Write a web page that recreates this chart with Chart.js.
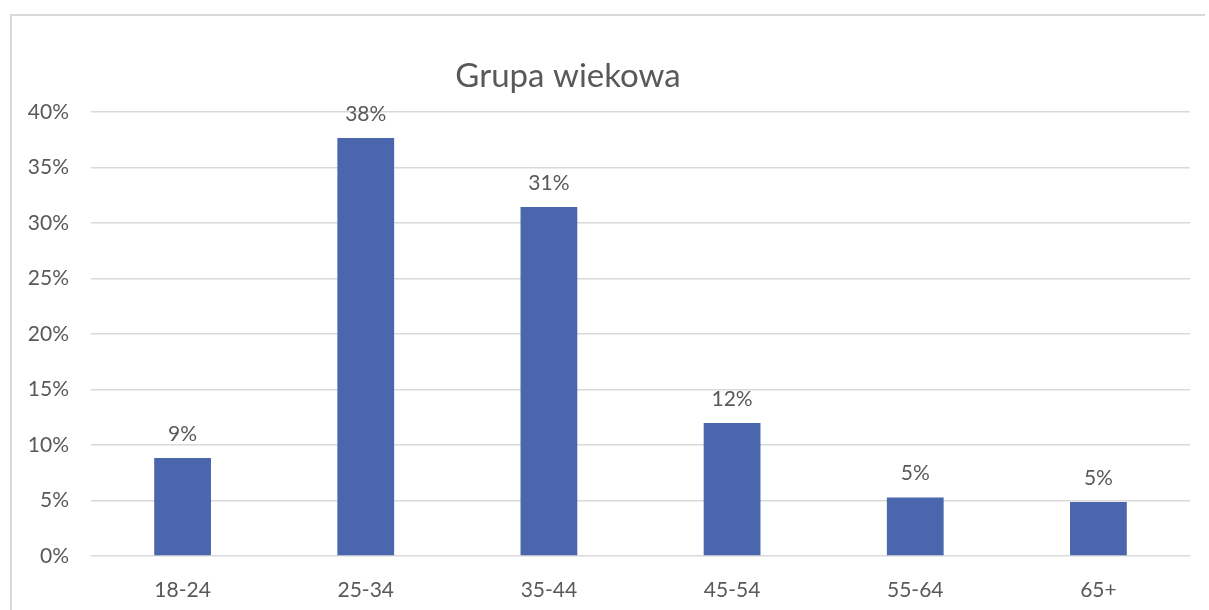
<!DOCTYPE html>
<html>
<head>
<meta charset="utf-8">
<script src="https://cdn.jsdelivr.net/npm/chart.js@4/dist/chart.umd.min.js"></script>
<style>
    html, body { margin: 0; padding: 0; background: #fff; }
    #wrap { position: relative; width: 1209px; height: 610px; }
    #frame {
        position: absolute; left: 10px; top: 14px; right: 4px; bottom: -10px;
        border-left: 2px solid #d9d9d9; border-top: 2px solid #d9d9d9;
    }
    #chart { position: absolute; left: 0; top: 0; }
</style>
</head>
<body>
<div id="wrap">
    <div id="frame"></div>
    <canvas id="chart" width="1209" height="610"></canvas>
</div>
<script>
const chartTitle = 'Grupa wiekowa';
const ageGroups = ['18-24', '25-34', '35-44', '45-54', '55-64', '65+'];
const shares = [8.83, 37.65, 31.45, 11.98, 5.28, 4.86];
const shareLabels = ['9%', '38%', '31%', '12%', '5%', '5%'];

const textColor = '#595959';
const fontFamily = 'Lato, "Open Sans", sans-serif';

// value labels above each bar
const barLabels = {
    id: 'barLabels',
    afterDatasetsDraw(chart) {
        const ctx = chart.ctx;
        const meta = chart.getDatasetMeta(0);
        ctx.save();
        ctx.fillStyle = textColor;
        ctx.font = '21px ' + fontFamily;
        ctx.textAlign = 'center';
        ctx.textBaseline = 'middle';
        meta.data.forEach(function(bar, i) {
            ctx.fillText(shareLabels[i], bar.x, bar.y - 24);
        });
        ctx.restore();
    }
};

// title sits left of centre, like the original
const titlePlugin = {
    id: 'offsetTitle',
    afterDraw(chart) {
        const ctx = chart.ctx;
        ctx.save();
        ctx.fillStyle = textColor;
        ctx.font = '33px ' + fontFamily;
        ctx.textAlign = 'center';
        ctx.textBaseline = 'middle';
        ctx.fillText(chartTitle, 568, 76);
        ctx.restore();
    }
};

new Chart(document.getElementById('chart'), {
    type: 'bar',
    data: {
        labels: ageGroups,
        datasets: [{
            data: shares,
            backgroundColor: '#4a66ac',
            borderWidth: 0,
            categoryPercentage: 1,
            barPercentage: 0.31
        }]
    },
    options: {
        responsive: false,
        animation: false,
        layout: { padding: { top: 112, right: 19, bottom: 0, left: 0 } },
        plugins: {
            legend: { display: false },
            title: { display: false },
            tooltip: { enabled: false }
        },
        scales: {
            x: {
                grid: { display: false },
                border: { display: false },
                ticks: { color: textColor, font: { family: fontFamily, size: 21 }, padding: 14 },
                afterFit(scale) { scale.height = 54; }
            },
            y: {
                min: 0,
                max: 40,
                grid: { color: '#d9d9d9', lineWidth: 1.5, drawTicks: false },
                border: { display: false },
                ticks: {
                    stepSize: 5,
                    color: textColor,
                    font: { family: fontFamily, size: 21 },
                    padding: 22,
                    callback: function(v) { return v + '%'; }
                },
                afterFit(scale) { scale.width = 91; }
            }
        }
    },
    plugins: [barLabels, titlePlugin]
});
</script>
</body>
</html>
